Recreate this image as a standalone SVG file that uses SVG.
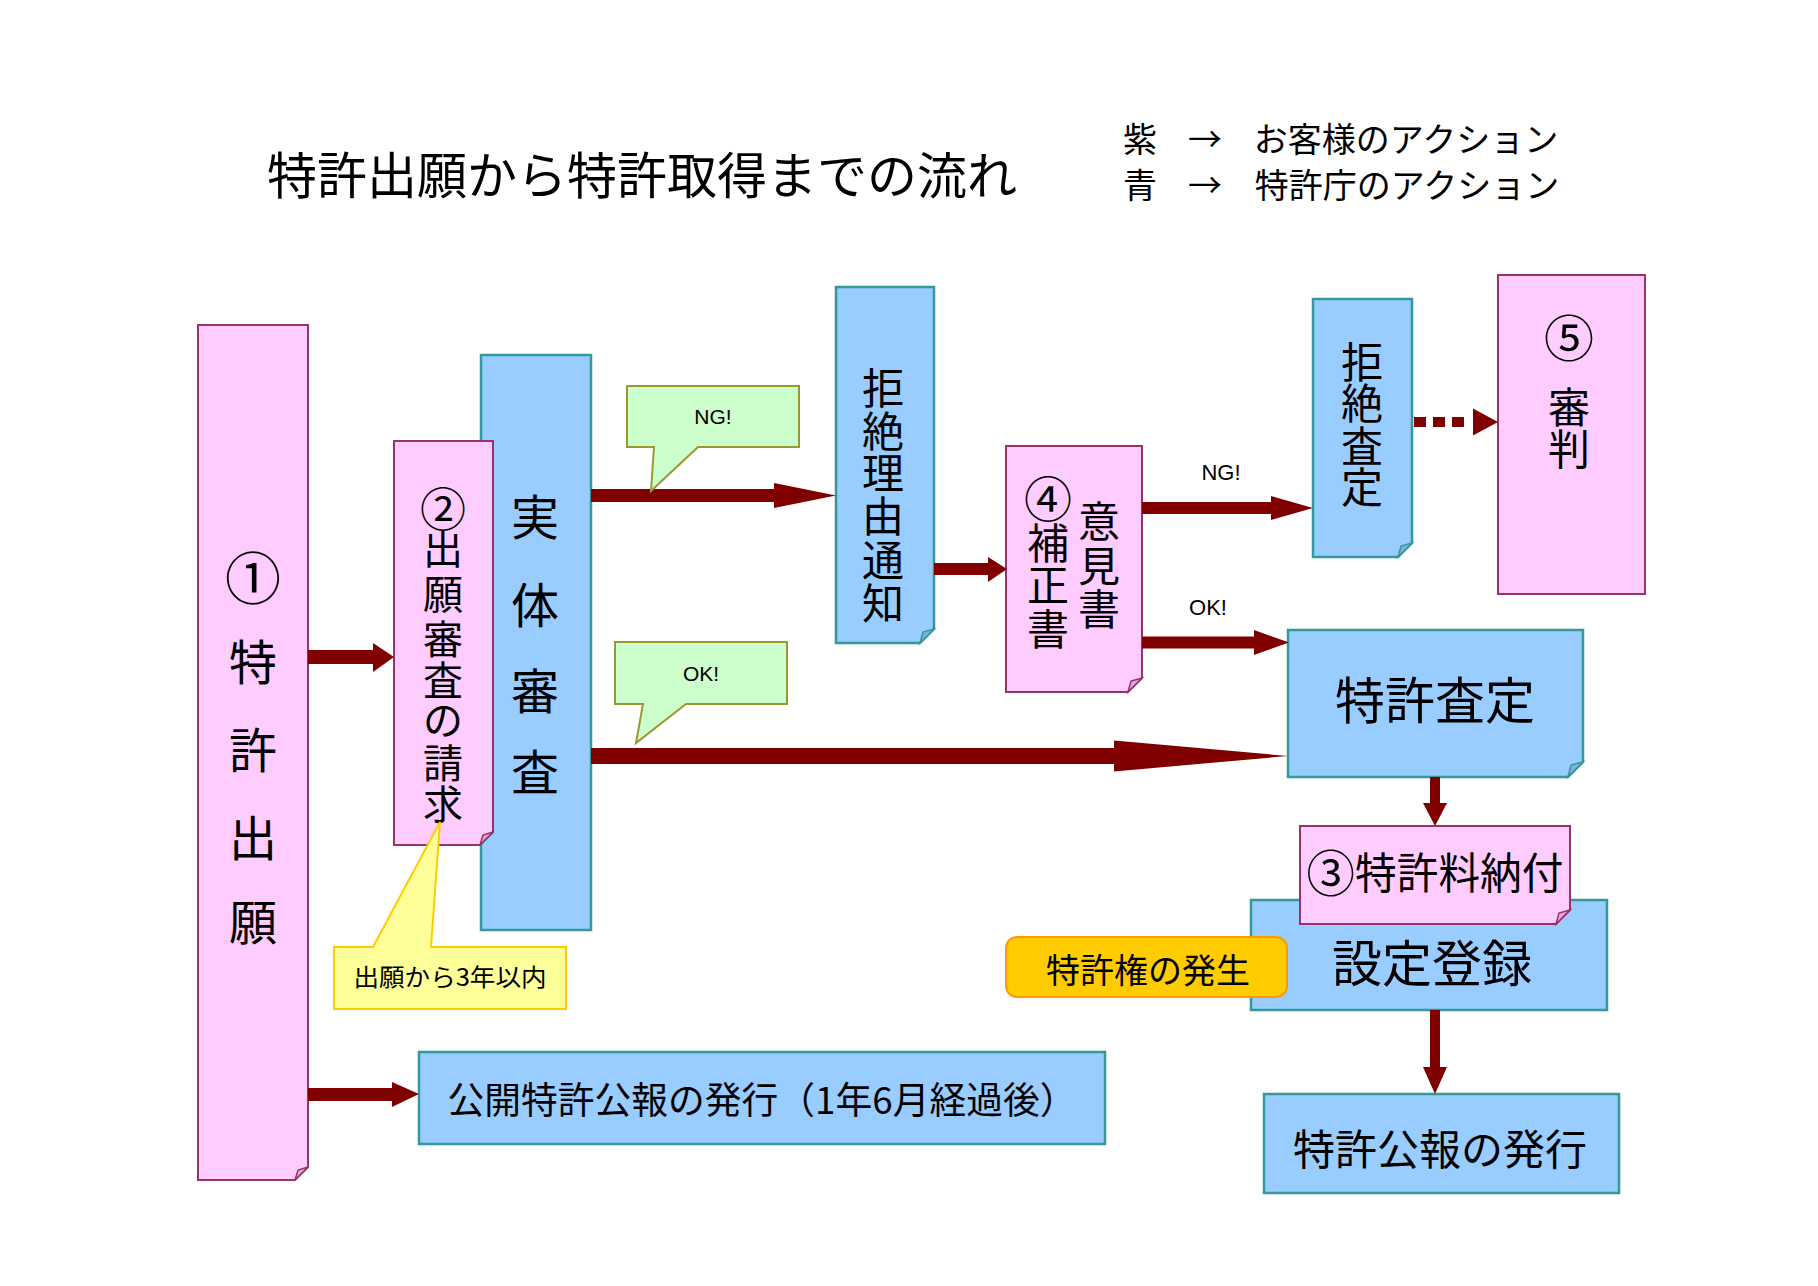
<svg xmlns="http://www.w3.org/2000/svg" width="1818" height="1286" viewBox="0 0 1818 1286">
<style>
  .jp { font-family: "Noto Sans CJK JP", "Noto Sans", sans-serif; fill: #000; text-anchor: middle; dominant-baseline: central; }
  .lt { font-family: "Liberation Sans", Arial, sans-serif; fill: #000; text-anchor: middle; dominant-baseline: central; }
  .pink { fill: #FFCCFF; stroke: #993366; stroke-width: 2; }
  .blue { fill: #99CCFF; stroke: #339999; stroke-width: 2.5; }
  .pinkfold { fill: #E0A8E0; stroke: #993366; stroke-width: 1.5; }
  .bluefold { fill: #7FB2E0; stroke: #339999; stroke-width: 1.5; }
  .green { fill: #CCFFCC; stroke: #999933; stroke-width: 2; }
  .yellow { fill: #FFFF99; stroke: #FFCC00; stroke-width: 2; }
  .orange { fill: #FFCC00; stroke: #FF9900; stroke-width: 2; }
  .arrow { fill: #800000; stroke: none; }
</style>
<rect x="0" y="0" width="1818" height="1286" fill="#FFFFFF"/>

<g id="title">
  <text class="jp" x="642" y="172" font-size="50">特許出願から特許取得までの流れ</text>
</g>
<g id="legend">
  <text class="jp" font-size="34" y="137"><tspan x="1140">紫</tspan><tspan x="1205">→</tspan><tspan x="1406">お客様のアクション</tspan></text>
  <text class="jp" font-size="34" y="183"><tspan x="1140">青</tspan><tspan x="1205">→</tspan><tspan x="1407">特許庁のアクション</tspan></text>
</g>

<g id="node-tokkyo-shutsugan">
  <path class="pink" d="M198,325 H308 V1167 L295,1180 H198 Z"/>
  <path class="pinkfold" d="M295,1180 L308,1167 L298,1170 Z"/>
  <text class="jp" font-size="48"><tspan x="253" y="574" font-size="56">①</tspan><tspan x="253" y="659">特</tspan><tspan x="253" y="747">許</tspan><tspan x="253" y="835">出</tspan><tspan x="253" y="919">願</tspan></text>
</g>

<g id="node-jittai-shinsa">
  <rect class="blue" x="481" y="355" width="110" height="575"/>
  <text class="jp" font-size="48"><tspan x="535" y="514">実</tspan><tspan x="535" y="602">体</tspan><tspan x="535" y="688">審</tspan><tspan x="535" y="769">査</tspan></text>
</g>

<g id="node-shinsa-seikyu">
  <path class="pink" d="M394,441 H493 V832 L480,845 H394 Z"/>
  <path class="pinkfold" d="M480,845 L493,832 L483,835 Z"/>
  <text class="jp" font-size="40"><tspan x="443" y="506" font-size="46">②</tspan><tspan x="443" y="547">出</tspan><tspan x="443" y="592">願</tspan><tspan x="443" y="637">審</tspan><tspan x="443" y="678">査</tspan><tspan x="443" y="718">の</tspan><tspan x="443" y="761">請</tspan><tspan x="443" y="802">求</tspan></text>
</g>

<g id="node-kyozetsu-riyu">
  <path class="blue" d="M836,287 H934 V629 L920,643 H836 Z"/>
  <path class="bluefold" d="M920,643 L934,629 L923,632 Z"/>
  <text class="jp" font-size="42"><tspan x="883" y="385">拒</tspan><tspan x="883" y="428">絶</tspan><tspan x="883" y="470">理</tspan><tspan x="883" y="513">由</tspan><tspan x="883" y="557">通</tspan><tspan x="883" y="600">知</tspan></text>
</g>

<g id="node-iken-hosei">
  <path class="pink" d="M1006,446 H1142 V678 L1128,692 H1006 Z"/>
  <path class="pinkfold" d="M1128,692 L1142,678 L1131,681 Z"/>
  <text class="jp" font-size="42"><tspan x="1048" y="496" font-size="48">④</tspan><tspan x="1048" y="540">補</tspan><tspan x="1048" y="582">正</tspan><tspan x="1048" y="626">書</tspan></text>
  <text class="jp" font-size="42"><tspan x="1099" y="518">意</tspan><tspan x="1099" y="563">見</tspan><tspan x="1099" y="606">書</tspan></text>
</g>

<g id="node-kyozetsu-satei">
  <path class="blue" d="M1313,299 H1412 V543 L1398,557 H1313 Z"/>
  <path class="bluefold" d="M1398,557 L1412,543 L1401,546 Z"/>
  <text class="jp" font-size="42"><tspan x="1362" y="359">拒</tspan><tspan x="1362" y="400">絶</tspan><tspan x="1362" y="443">査</tspan><tspan x="1362" y="484">定</tspan></text>
</g>

<g id="node-shinpan">
  <rect class="pink" x="1498" y="275" width="147" height="319"/>
  <text class="jp" font-size="42"><tspan x="1569" y="335" font-size="50">⑤</tspan><tspan x="1569" y="404">審</tspan><tspan x="1569" y="446">判</tspan></text>
</g>

<g id="node-tokkyo-satei">
  <path class="blue" d="M1288,630 H1583 V762 L1568,777 H1288 Z"/>
  <path class="bluefold" d="M1568,777 L1583,762 L1571,765 Z"/>
  <text class="jp" x="1435" y="697" font-size="50">特許査定</text>
</g>

<g id="node-settei-toroku">
  <rect class="blue" x="1251" y="900" width="356" height="110"/>
  <text class="jp" x="1432" y="960" font-size="50">設定登録</text>
</g>

<g id="node-tokkyoryo">
  <path class="pink" d="M1300,826 H1570 V910 L1556,924 H1300 Z"/>
  <path class="pinkfold" d="M1556,924 L1570,910 L1559,913 Z"/>
  <text class="jp" x="1435" y="870" font-size="43" textLength="257" lengthAdjust="spacingAndGlyphs"><tspan font-size="50">③</tspan>特許料納付</text>
</g>

<g id="node-tokkyoken">
  <rect class="orange" x="1006" y="937" width="281" height="60" rx="11" ry="11"/>
  <text class="jp" x="1148" y="968" font-size="34">特許権の発生</text>
</g>

<g id="node-tokkyo-koho">
  <rect class="blue" x="1264" y="1094" width="355" height="99"/>
  <text class="jp" x="1440" y="1146" font-size="42">特許公報の発行</text>
</g>

<g id="node-kokai-koho">
  <rect class="blue" x="419" y="1052" width="686" height="92"/>
  <text class="jp" x="762" y="1098" font-size="37" textLength="629" lengthAdjust="spacingAndGlyphs">公開特許公報の発行（1年6月経過後）</text>
</g>

<g id="connectors">
  <polygon class="arrow" points="308,650 373,650 373,643 394,657 373,672 373,664 308,664"/>
  <polygon class="arrow" points="308,1088 392,1088 392,1082 419,1094 392,1107 392,1101 308,1101"/>
  <polygon class="arrow" points="591,489 774,489 774,483 836,495.5 774,508 774,502 591,502"/>
  <polygon class="arrow" points="591,748 1114,748 1114,740.5 1288,756 1114,771.5 1114,764 591,764"/>
  <polygon class="arrow" points="934,563 988,563 988,557 1007,569 988,582 988,575 934,575"/>
  <polygon class="arrow" points="1142,502 1271,502 1271,496 1313,508 1271,520 1271,514 1142,514"/>
  <polygon class="arrow" points="1142,636.5 1254,636.5 1254,630 1289,642.5 1254,655 1254,648.5 1142,648.5"/>
  <line x1="1414" y1="422" x2="1468" y2="422" stroke="#800000" stroke-width="10" stroke-dasharray="12 7"/>
  <polygon class="arrow" points="1473,408.5 1498,422 1473,435.5"/>
  <polygon class="arrow" points="1430,777 1440,777 1440,803 1447,803 1435,826 1423,803 1430,803"/>
  <polygon class="arrow" points="1430,1010 1440,1010 1440,1067 1447,1067 1435,1094 1423,1067 1430,1067"/>
</g>

<g id="callout-ng">
  <path class="green" d="M627,386 H799 V447 H698 L651,491 L654,447 H627 Z"/>
  <text class="lt" x="713" y="416" font-size="21">NG!</text>
</g>
<g id="callout-ok">
  <path class="green" d="M615,642 H787 V704 H686 L636,743 L643,704 H615 Z"/>
  <text class="lt" x="701" y="673" font-size="21">OK!</text>
</g>
<g id="callout-3years">
  <path class="yellow" d="M334,947 H373 L440,822 L431,947 H566 V1009 H334 Z"/>
  <text class="jp" x="450" y="975" font-size="24" textLength="193" lengthAdjust="spacingAndGlyphs">出願から3年以内</text>
</g>

<g id="labels">
  <text class="lt" x="1221" y="472" font-size="22">NG!</text>
  <text class="lt" x="1208" y="607" font-size="22">OK!</text>
</g>
</svg>
